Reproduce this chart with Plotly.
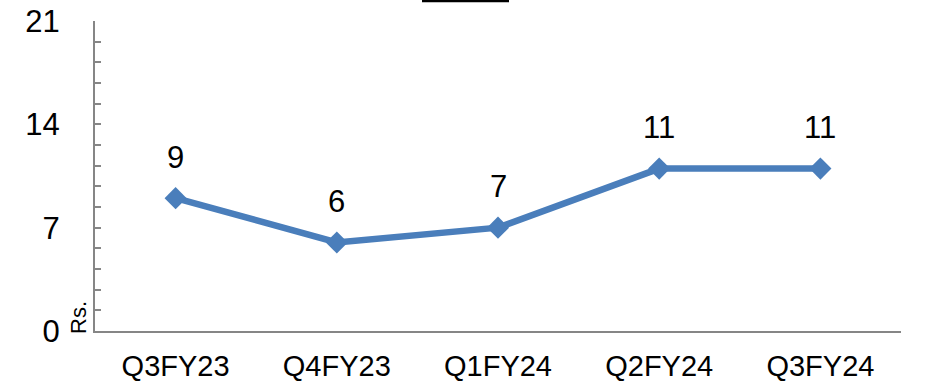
import plotly.graph_objects as go

categories = ["Q3FY23", "Q4FY23", "Q1FY24", "Q2FY24", "Q3FY24"]
values = [9, 6, 7, 11, 11]
y_ticks = [0, 7, 14, 21]

W, H = 935, 384
ml, mr, mt, mb = 95, 34, 21, 53
pw, ph = W - ml - mr, H - mt - mb

font = "Liberation Sans, Arial, sans-serif"
blue = "#4A7EBB"
axis_gray = "#868686"

fig = go.Figure()
fig.add_trace(go.Scatter(
    x=categories, y=values, mode="lines+markers",
    line=dict(color=blue, width=6.5),
    marker=dict(symbol="diamond", size=17, color=blue),
    hoverinfo="skip", showlegend=False,
))

for c, v in zip(categories, values):
    fig.add_annotation(x=c, y=v, text=str(v), showarrow=False,
                       yshift=41, yanchor="middle",
                       font=dict(family=font, size=31, color="black"))

fig.add_annotation(xref="paper", yref="paper",
                   x=(78 - ml) / pw, y=(H - mb - 318) / ph,
                   text="Rs.", textangle=-90, showarrow=False,
                   xanchor="center", yanchor="middle",
                   font=dict(family=font, size=22, color="black"))

fig.add_shape(type="line", xref="paper", yref="paper",
              x0=(422 - ml) / pw, x1=(509 - ml) / pw,
              y0=(H - mb - 1) / ph, y1=(H - mb - 1) / ph,
              line=dict(color="black", width=2.5))

fig.update_layout(
    width=W, height=H,
    margin=dict(l=ml, r=mr, t=mt, b=mb, autoexpand=False),
    paper_bgcolor="white", plot_bgcolor="white",
    font=dict(family=font, size=31, color="black"),
    xaxis=dict(
        type="category", range=[-0.5, 4.5], automargin=False,
        showgrid=False, zeroline=False,
        showline=True, linecolor=axis_gray, linewidth=2,
        ticks="", ticklabelstandoff=8,
        tickfont=dict(family=font, size=29, color="black"),
    ),
    yaxis=dict(
        range=[0, 21], tickvals=y_ticks, automargin=False,
        showgrid=False, zeroline=False,
        showline=True, linecolor=axis_gray, linewidth=2,
        ticks="inside", ticklen=6, tickwidth=1.5, tickcolor=axis_gray,
        minor=dict(ticks="inside", dtick=1.4, ticklen=6, tickwidth=1.5,
                   tickcolor=axis_gray, showgrid=False),
        ticklabelstandoff=27,
        tickfont=dict(family=font, size=31, color="black"),
    ),
)

fig.write_html("out.html")
